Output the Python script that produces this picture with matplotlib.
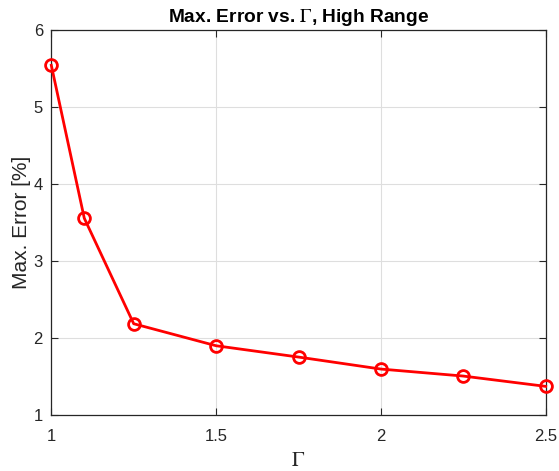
import numpy as np
import matplotlib.pyplot as plt

plt.rcParams['font.family'] = ['Liberation Sans', 'DejaVu Sans']
plt.rcParams['mathtext.fontset'] = 'stix'

gamma = [1.0, 1.1, 1.25, 1.5, 1.75, 2.0, 2.25, 2.5]
max_err = [5.545, 3.558, 2.186, 1.90, 1.753, 1.597, 1.506, 1.372]

fig = plt.figure(figsize=(5.59, 4.71), dpi=100)
ax = fig.add_axes([0.0918, 0.1189, 0.8844, 0.8168])

ax.plot(gamma, max_err, '-o', color='red', lw=2, ms=8.5, mfc='none', mew=2,
        clip_on=False, zorder=3)

ax.set_xlim(1, 2.5)
ax.set_ylim(1, 6)
ax.set_xticks([1, 1.5, 2, 2.5])
ax.set_xticklabels(['1', '1.5', '2', '2.5'])
ax.set_yticks([1, 2, 3, 4, 5, 6])
ax.grid(True, color='0.87', lw=0.8)
ax.set_axisbelow(True)

dark = '0.15'
for s in ax.spines.values():
    s.set_color(dark)
    s.set_linewidth(0.9)
ax.tick_params(direction='in', length=5, width=0.8, colors=dark, labelsize=12,
               top=True, right=True)
ax.tick_params(axis='x', pad=10)
ax.tick_params(axis='y', pad=6)

ax.set_ylabel('Max. Error [%]', fontsize=15, color=dark, labelpad=2)
ax.set_xlabel(r'$\Gamma$', fontsize=15, color=dark, labelpad=5)
ax.set_title(r'Max. Error vs. $\Gamma$, High Range', fontsize=13.8, fontweight='bold', pad=6)

fig.savefig('out.png', dpi=100)
